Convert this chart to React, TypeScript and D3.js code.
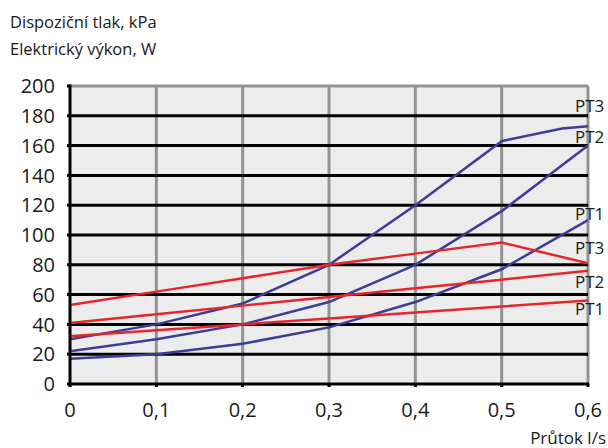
import React from "react";
import * as d3 from "d3";

const flow = [0, 0.1, 0.2, 0.3, 0.4, 0.5, 0.6];
const xTicks = [0, 0.1, 0.2, 0.3, 0.4, 0.5, 0.6];
const yTicks = [0, 20, 40, 60, 80, 100, 120, 140, 160, 180, 200];

// Pressure (kPa), blue
const pressurePT3x = [0, 0.1, 0.2, 0.3, 0.4, 0.5, 0.57, 0.6];
const pressurePT3 = [30, 40, 54, 80, 120, 163, 171.5, 173];
const pressurePT2 = [22, 30, 40, 55, 80, 116, 160];
const pressurePT1 = [17, 20, 27, 38, 55, 77, 110];

// Electric power (W), red
const powerPT3 = [53, 62, 71, 80, 87.5, 95, 81];
const powerPT2 = [41, 46.8, 52.6, 58.4, 64.2, 70, 76];
const powerPT1 = [32, 36, 40, 44, 48, 52, 56];

const seriesNames = ["PT3", "PT2", "PT1", "PT3", "PT2", "PT1"];

const W = 608, H = 448;
const M = { left: 70, right: 20, top: 86, bottom: 64 };
const BLUE = "#3d3d96";
const RED = "#e8252b";
const FONT = "'Open Sans', 'Noto Sans', sans-serif";

export default function App() {
  const x = d3.scaleLinear().domain([0, 0.6]).range([M.left, W - M.right]);
  const y = d3.scaleLinear().domain([0, 200]).range([H - M.bottom, M.top]);
  const line = d3.line<[number, number]>().x(d => x(d[0])).y(d => y(d[1]));
  const zip = (xs: number[], ys: number[]) => xs.map((v, i) => [v, ys[i]] as [number, number]);

  const series = [
    { xs: pressurePT3x, ys: pressurePT3, color: BLUE, dy: -14 },
    { xs: flow, ys: pressurePT2, color: BLUE, dy: -3 },
    { xs: flow, ys: pressurePT1, color: BLUE, dy: 0 },
    { xs: flow, ys: powerPT3, color: RED, dy: -9 },
    { xs: flow, ys: powerPT2, color: RED, dy: 17 },
    { xs: flow, ys: powerPT1, color: RED, dy: 14 },
  ];
  const fmt = (v: number) => (v === 0 ? "0" : String(v).replace(".", ","));
  const x0 = x(0), x1 = x(0.6), yTop = y(200), yBot = y(0);

  return (
    <svg width={W} height={H} style={{ position: "absolute", left: 0, top: 0 }} fontFamily={FONT}>
      <rect x={x0} y={yTop} width={x1 - x0} height={yBot - yTop} fill="#ececec" />
      {xTicks.slice(1).map(t => (
        <line key={"v" + t} x1={x(t)} x2={x(t)} y1={yTop} y2={yBot} stroke="#939393" strokeWidth={3} />
      ))}
      <line x1={x0} x2={x1} y1={yTop} y2={yTop} stroke="#939393" strokeWidth={3} />
      {yTicks.slice(1, -1).map(t => (
        <line key={"h" + t} x1={x0} x2={x1} y1={y(t)} y2={y(t)} stroke="#000" strokeWidth={3} />
      ))}
      {series.map((s, i) => (
        <path key={"s" + i} d={line(zip(s.xs, s.ys)) || ""} fill="none" stroke={s.color} strokeWidth={2.5} />
      ))}
      <line x1={x0} x2={x1 + 1} y1={yBot} y2={yBot} stroke="#000" strokeWidth={3} />
      <line x1={x0} x2={x0} y1={yTop - 1.5} y2={yBot + 1.5} stroke="#000" strokeWidth={3} />
      {yTicks.map(t => (
        <line key={"yt" + t} x1={x0 - 3} x2={x0} y1={y(t)} y2={y(t)} stroke="#000" strokeWidth={3} />
      ))}
      {xTicks.map(t => (
        <line key={"xt" + t} x1={x(t)} x2={x(t)} y1={yBot} y2={yBot + 3} stroke="#000" strokeWidth={3} />
      ))}
      {yTicks.map(t => (
        <text key={"yl" + t} x={55} y={y(t)} dy="0.36em" textAnchor="end" fontSize={20} fill="#1a1a1a">{t}</text>
      ))}
      {xTicks.map(t => (
        <text key={"xl" + t} x={x(t)} y={417} textAnchor="middle" fontSize={20} fill="#1a1a1a">{fmt(t)}</text>
      ))}
      {series.map((s, i) => (
        <text key={"n" + i} x={575} y={y(s.ys[s.ys.length - 1]) + s.dy} fontSize={17} fill="#1a1a1a">{seriesNames[i]}</text>
      ))}
      <text x={10} y={28} fontSize={16.5} fill="#1a1a1a">Dispoziční tlak, kPa</text>
      <text x={10} y={55} fontSize={16.5} fill="#1a1a1a">Elektrický výkon, W</text>
      <text x={606} y={444} textAnchor="end" fontSize={17} fill="#1a1a1a">Průtok l/s</text>
    </svg>
  );
}
